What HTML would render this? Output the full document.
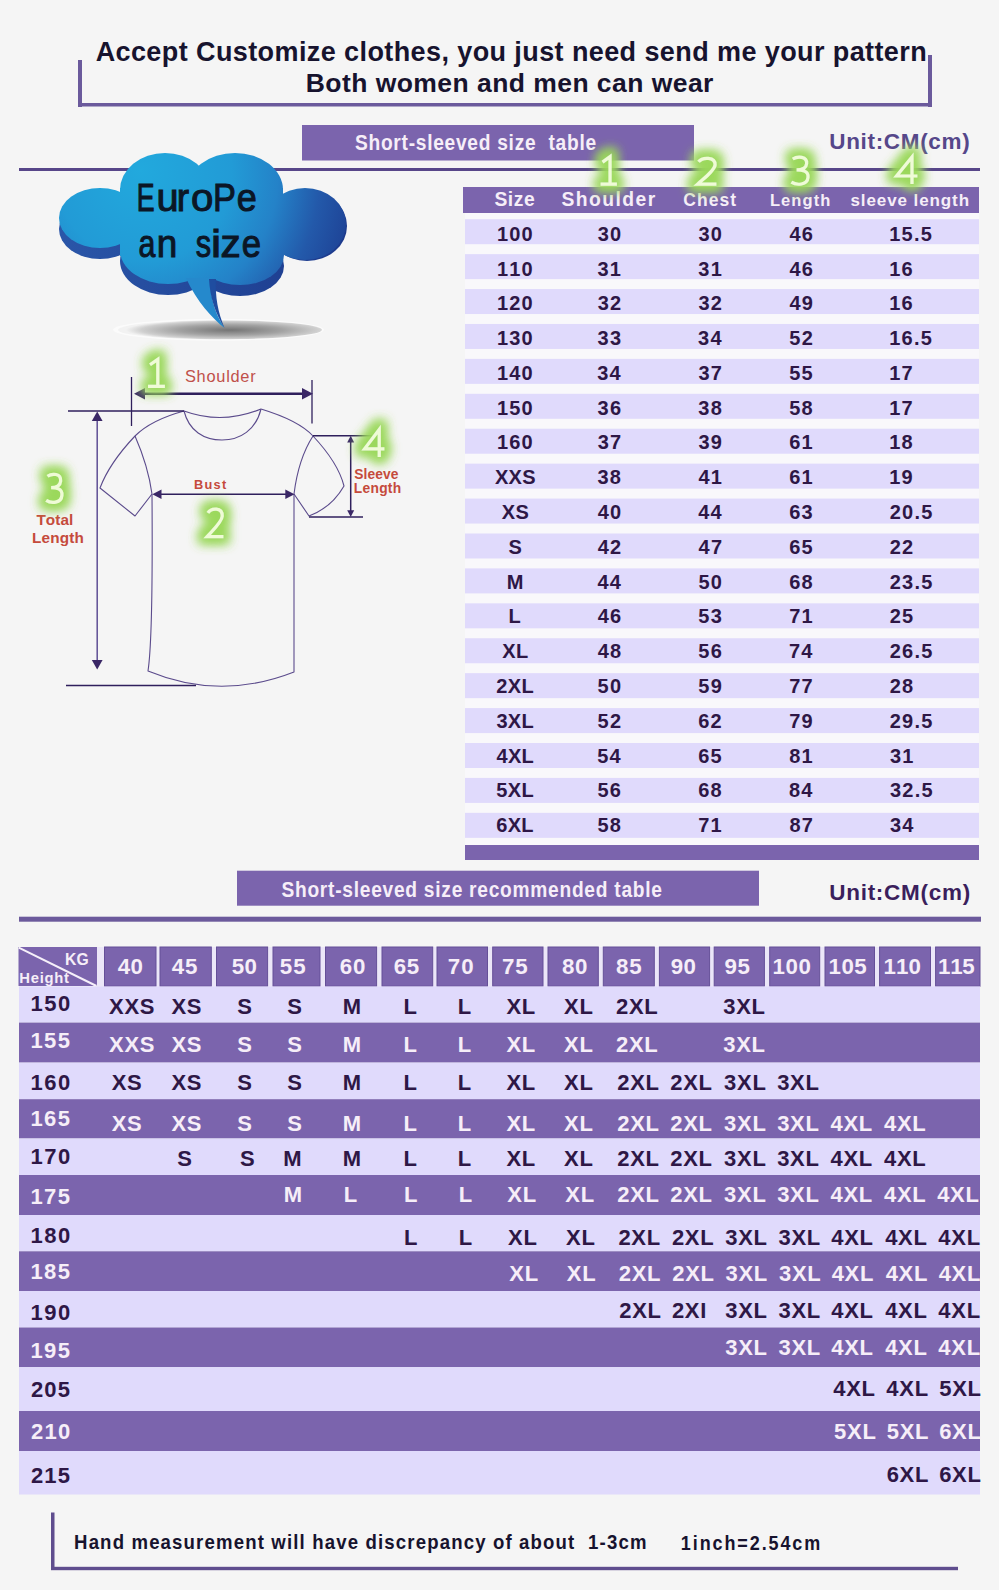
<!DOCTYPE html>
<html><head><meta charset="utf-8"><style>
html,body{margin:0;padding:0;background:#f5f5f5;overflow:hidden;width:999px;height:1590px;}
svg{display:block;}
text{font-family:"Liberation Sans", sans-serif;font-kerning:none;white-space:pre;}
</style></head><body>
<svg width="999" height="1590" viewBox="0 0 999 1590">
<rect width="999" height="1590" fill="#f5f5f5"/>
<rect x="78" y="60" width="4" height="47" fill="#6b5a9c" />
<rect x="78" y="103" width="854" height="3.5" fill="#6b5a9c" />
<rect x="928" y="55" width="4" height="52" fill="#6b5a9c" />
<text x="95.63" y="60.80" font-size="27" font-weight="700" fill="#17132e" letter-spacing="0.405" >Accept Customize clothes, you just need send me your pattern</text>
<text x="305.73" y="91.70" font-size="26.5" font-weight="700" fill="#17132e" letter-spacing="0.445" >Both women and men can wear</text>
<rect x="302" y="125" width="392" height="35.5" fill="#7b64ad" />
<text transform="translate(354.95 149.80) scale(0.9000 1)" font-size="21.3" font-weight="700" fill="#f6eef8" letter-spacing="0.814" >Short-sleeved size  table</text>
<text x="829.25" y="149.00" font-size="22.5" font-weight="700" fill="#56478a" letter-spacing="0.675" >Unit:CM(cm)</text>
<rect x="19" y="168" width="961" height="3" fill="#574689" />
<rect x="463" y="187" width="516" height="26" fill="#7b64ad" />
<text x="494.44" y="206.00" font-size="19.3" font-weight="700" fill="#f6eef8" letter-spacing="0.532" >Size</text>
<text x="561.44" y="206.30" font-size="19.3" font-weight="700" fill="#f6eef8" letter-spacing="1.459" >Shoulder</text>
<text x="683.28" y="206.30" font-size="17.5" font-weight="700" fill="#f6eef8" letter-spacing="1.078" >Chest</text>
<text x="769.90" y="205.70" font-size="16.5" font-weight="700" fill="#f6eef8" letter-spacing="1.108" >Length</text>
<text x="850.40" y="206.00" font-size="17" font-weight="700" fill="#f6eef8" letter-spacing="0.912" >sleeve length</text>
<rect x="465" y="213" width="514" height="632" fill="#f9f8fb" />
<rect x="465" y="219.2" width="514" height="25" fill="#e0dafc" />
<rect x="465" y="254.12" width="514" height="25" fill="#e0dafc" />
<rect x="465" y="289.04" width="514" height="25" fill="#e0dafc" />
<rect x="465" y="323.96" width="514" height="25" fill="#e0dafc" />
<rect x="465" y="358.88" width="514" height="25" fill="#e0dafc" />
<rect x="465" y="393.8" width="514" height="25" fill="#e0dafc" />
<rect x="465" y="428.72" width="514" height="25" fill="#e0dafc" />
<rect x="465" y="463.64" width="514" height="25" fill="#e0dafc" />
<rect x="465" y="498.56" width="514" height="25" fill="#e0dafc" />
<rect x="465" y="533.48" width="514" height="25" fill="#e0dafc" />
<rect x="465" y="568.4" width="514" height="25" fill="#e0dafc" />
<rect x="465" y="603.32" width="514" height="25" fill="#e0dafc" />
<rect x="465" y="638.24" width="514" height="25" fill="#e0dafc" />
<rect x="465" y="673.16" width="514" height="25" fill="#e0dafc" />
<rect x="465" y="708.08" width="514" height="25" fill="#e0dafc" />
<rect x="465" y="743.0" width="514" height="25" fill="#e0dafc" />
<rect x="465" y="777.92" width="514" height="25" fill="#e0dafc" />
<rect x="465" y="812.84" width="514" height="25" fill="#e0dafc" />
<text x="496.90" y="240.80" font-size="20" font-weight="700" fill="#2e1746" letter-spacing="1.200">100</text>
<text x="597.66" y="240.80" font-size="20" font-weight="700" fill="#2e1746" letter-spacing="1.200">30</text>
<text x="698.46" y="240.80" font-size="20" font-weight="700" fill="#2e1746" letter-spacing="1.200">30</text>
<text x="789.49" y="240.80" font-size="20" font-weight="700" fill="#2e1746" letter-spacing="1.200">46</text>
<text x="889.24" y="240.80" font-size="20" font-weight="700" fill="#2e1746" letter-spacing="1.200">15.5</text>
<text x="496.90" y="275.58" font-size="20" font-weight="700" fill="#2e1746" letter-spacing="1.200">110</text>
<text x="597.53" y="275.58" font-size="20" font-weight="700" fill="#2e1746" letter-spacing="1.200">31</text>
<text x="698.33" y="275.58" font-size="20" font-weight="700" fill="#2e1746" letter-spacing="1.200">31</text>
<text x="789.49" y="275.58" font-size="20" font-weight="700" fill="#2e1746" letter-spacing="1.200">46</text>
<text x="889.24" y="275.58" font-size="20" font-weight="700" fill="#2e1746" letter-spacing="1.200">16</text>
<text x="496.90" y="310.36" font-size="20" font-weight="700" fill="#2e1746" letter-spacing="1.200">120</text>
<text x="597.65" y="310.36" font-size="20" font-weight="700" fill="#2e1746" letter-spacing="1.200">32</text>
<text x="698.45" y="310.36" font-size="20" font-weight="700" fill="#2e1746" letter-spacing="1.200">32</text>
<text x="789.50" y="310.36" font-size="20" font-weight="700" fill="#2e1746" letter-spacing="1.200">49</text>
<text x="889.24" y="310.36" font-size="20" font-weight="700" fill="#2e1746" letter-spacing="1.200">16</text>
<text x="496.90" y="345.14" font-size="20" font-weight="700" fill="#2e1746" letter-spacing="1.200">130</text>
<text x="597.61" y="345.14" font-size="20" font-weight="700" fill="#2e1746" letter-spacing="1.200">33</text>
<text x="698.10" y="345.14" font-size="20" font-weight="700" fill="#2e1746" letter-spacing="1.200">34</text>
<text x="789.37" y="345.14" font-size="20" font-weight="700" fill="#2e1746" letter-spacing="1.200">52</text>
<text x="889.24" y="345.14" font-size="20" font-weight="700" fill="#2e1746" letter-spacing="1.200">16.5</text>
<text x="496.90" y="379.92" font-size="20" font-weight="700" fill="#2e1746" letter-spacing="1.200">140</text>
<text x="597.30" y="379.92" font-size="20" font-weight="700" fill="#2e1746" letter-spacing="1.200">34</text>
<text x="698.49" y="379.92" font-size="20" font-weight="700" fill="#2e1746" letter-spacing="1.200">37</text>
<text x="789.25" y="379.92" font-size="20" font-weight="700" fill="#2e1746" letter-spacing="1.200">55</text>
<text x="889.24" y="379.92" font-size="20" font-weight="700" fill="#2e1746" letter-spacing="1.200">17</text>
<text x="496.90" y="414.70" font-size="20" font-weight="700" fill="#2e1746" letter-spacing="1.200">150</text>
<text x="597.61" y="414.70" font-size="20" font-weight="700" fill="#2e1746" letter-spacing="1.200">36</text>
<text x="698.36" y="414.70" font-size="20" font-weight="700" fill="#2e1746" letter-spacing="1.200">38</text>
<text x="789.28" y="414.70" font-size="20" font-weight="700" fill="#2e1746" letter-spacing="1.200">58</text>
<text x="889.24" y="414.70" font-size="20" font-weight="700" fill="#2e1746" letter-spacing="1.200">17</text>
<text x="496.90" y="449.48" font-size="20" font-weight="700" fill="#2e1746" letter-spacing="1.200">160</text>
<text x="597.69" y="449.48" font-size="20" font-weight="700" fill="#2e1746" letter-spacing="1.200">37</text>
<text x="698.42" y="449.48" font-size="20" font-weight="700" fill="#2e1746" letter-spacing="1.200">39</text>
<text x="789.19" y="449.48" font-size="20" font-weight="700" fill="#2e1746" letter-spacing="1.200">61</text>
<text x="889.24" y="449.48" font-size="20" font-weight="700" fill="#2e1746" letter-spacing="1.200">18</text>
<text x="494.99" y="484.26" font-size="20" font-weight="700" fill="#2e1746" letter-spacing="0.300">XXS</text>
<text x="597.56" y="484.26" font-size="20" font-weight="700" fill="#2e1746" letter-spacing="1.200">38</text>
<text x="698.40" y="484.26" font-size="20" font-weight="700" fill="#2e1746" letter-spacing="1.200">41</text>
<text x="789.19" y="484.26" font-size="20" font-weight="700" fill="#2e1746" letter-spacing="1.200">61</text>
<text x="889.24" y="484.26" font-size="20" font-weight="700" fill="#2e1746" letter-spacing="1.200">19</text>
<text x="501.81" y="519.04" font-size="20" font-weight="700" fill="#2e1746" letter-spacing="0.300">XS</text>
<text x="597.74" y="519.04" font-size="20" font-weight="700" fill="#2e1746" letter-spacing="1.200">40</text>
<text x="698.18" y="519.04" font-size="20" font-weight="700" fill="#2e1746" letter-spacing="1.200">44</text>
<text x="789.27" y="519.04" font-size="20" font-weight="700" fill="#2e1746" letter-spacing="1.200">63</text>
<text x="889.81" y="519.04" font-size="20" font-weight="700" fill="#2e1746" letter-spacing="1.200">20.5</text>
<text x="508.43" y="553.82" font-size="20" font-weight="700" fill="#2e1746" letter-spacing="0.300">S</text>
<text x="597.73" y="553.82" font-size="20" font-weight="700" fill="#2e1746" letter-spacing="1.200">42</text>
<text x="698.57" y="553.82" font-size="20" font-weight="700" fill="#2e1746" letter-spacing="1.200">47</text>
<text x="789.19" y="553.82" font-size="20" font-weight="700" fill="#2e1746" letter-spacing="1.200">65</text>
<text x="889.81" y="553.82" font-size="20" font-weight="700" fill="#2e1746" letter-spacing="1.200">22</text>
<text x="506.67" y="588.60" font-size="20" font-weight="700" fill="#2e1746" letter-spacing="0.300">M</text>
<text x="597.38" y="588.60" font-size="20" font-weight="700" fill="#2e1746" letter-spacing="1.200">44</text>
<text x="698.38" y="588.60" font-size="20" font-weight="700" fill="#2e1746" letter-spacing="1.200">50</text>
<text x="789.22" y="588.60" font-size="20" font-weight="700" fill="#2e1746" letter-spacing="1.200">68</text>
<text x="889.81" y="588.60" font-size="20" font-weight="700" fill="#2e1746" letter-spacing="1.200">23.5</text>
<text x="508.53" y="623.38" font-size="20" font-weight="700" fill="#2e1746" letter-spacing="0.300">L</text>
<text x="597.69" y="623.38" font-size="20" font-weight="700" fill="#2e1746" letter-spacing="1.200">46</text>
<text x="698.33" y="623.38" font-size="20" font-weight="700" fill="#2e1746" letter-spacing="1.200">53</text>
<text x="789.13" y="623.38" font-size="20" font-weight="700" fill="#2e1746" letter-spacing="1.200">71</text>
<text x="889.81" y="623.38" font-size="20" font-weight="700" fill="#2e1746" letter-spacing="1.200">25</text>
<text x="502.29" y="658.16" font-size="20" font-weight="700" fill="#2e1746" letter-spacing="0.300">XL</text>
<text x="597.63" y="658.16" font-size="20" font-weight="700" fill="#2e1746" letter-spacing="1.200">48</text>
<text x="698.33" y="658.16" font-size="20" font-weight="700" fill="#2e1746" letter-spacing="1.200">56</text>
<text x="788.90" y="658.16" font-size="20" font-weight="700" fill="#2e1746" letter-spacing="1.200">74</text>
<text x="889.81" y="658.16" font-size="20" font-weight="700" fill="#2e1746" letter-spacing="1.200">26.5</text>
<text x="496.32" y="692.94" font-size="20" font-weight="700" fill="#2e1746" letter-spacing="0.300">2XL</text>
<text x="597.58" y="692.94" font-size="20" font-weight="700" fill="#2e1746" letter-spacing="1.200">50</text>
<text x="698.34" y="692.94" font-size="20" font-weight="700" fill="#2e1746" letter-spacing="1.200">59</text>
<text x="789.29" y="692.94" font-size="20" font-weight="700" fill="#2e1746" letter-spacing="1.200">77</text>
<text x="889.81" y="692.94" font-size="20" font-weight="700" fill="#2e1746" letter-spacing="1.200">28</text>
<text x="496.44" y="727.72" font-size="20" font-weight="700" fill="#2e1746" letter-spacing="0.300">3XL</text>
<text x="597.57" y="727.72" font-size="20" font-weight="700" fill="#2e1746" letter-spacing="1.200">52</text>
<text x="698.31" y="727.72" font-size="20" font-weight="700" fill="#2e1746" letter-spacing="1.200">62</text>
<text x="789.22" y="727.72" font-size="20" font-weight="700" fill="#2e1746" letter-spacing="1.200">79</text>
<text x="889.81" y="727.72" font-size="20" font-weight="700" fill="#2e1746" letter-spacing="1.200">29.5</text>
<text x="496.52" y="762.50" font-size="20" font-weight="700" fill="#2e1746" letter-spacing="0.300">4XL</text>
<text x="597.22" y="762.50" font-size="20" font-weight="700" fill="#2e1746" letter-spacing="1.200">54</text>
<text x="698.19" y="762.50" font-size="20" font-weight="700" fill="#2e1746" letter-spacing="1.200">65</text>
<text x="789.24" y="762.50" font-size="20" font-weight="700" fill="#2e1746" letter-spacing="1.200">81</text>
<text x="890.04" y="762.50" font-size="20" font-weight="700" fill="#2e1746" letter-spacing="1.200">31</text>
<text x="496.36" y="797.28" font-size="20" font-weight="700" fill="#2e1746" letter-spacing="0.300">5XL</text>
<text x="597.53" y="797.28" font-size="20" font-weight="700" fill="#2e1746" letter-spacing="1.200">56</text>
<text x="698.22" y="797.28" font-size="20" font-weight="700" fill="#2e1746" letter-spacing="1.200">68</text>
<text x="789.01" y="797.28" font-size="20" font-weight="700" fill="#2e1746" letter-spacing="1.200">84</text>
<text x="890.04" y="797.28" font-size="20" font-weight="700" fill="#2e1746" letter-spacing="1.200">32.5</text>
<text x="496.30" y="832.06" font-size="20" font-weight="700" fill="#2e1746" letter-spacing="0.300">6XL</text>
<text x="597.48" y="832.06" font-size="20" font-weight="700" fill="#2e1746" letter-spacing="1.200">58</text>
<text x="698.13" y="832.06" font-size="20" font-weight="700" fill="#2e1746" letter-spacing="1.200">71</text>
<text x="789.40" y="832.06" font-size="20" font-weight="700" fill="#2e1746" letter-spacing="1.200">87</text>
<text x="890.04" y="832.06" font-size="20" font-weight="700" fill="#2e1746" letter-spacing="1.200">34</text>
<rect x="465" y="845" width="514" height="15" fill="#7b64ad" />
<rect x="237" y="870.7" width="522" height="35" fill="#7b64ad" />
<text transform="translate(281.45 896.80) scale(0.9000 1)" font-size="21.3" font-weight="700" fill="#f6eef8" letter-spacing="0.824" >Short-sleeved size recommended table</text>
<text x="829.25" y="899.60" font-size="22.5" font-weight="700" fill="#3b1f5c" letter-spacing="0.715" >Unit:CM(cm)</text>
<rect x="19" y="916.7" width="962" height="5" fill="#6c5a9c" />
<rect x="97" y="947" width="883" height="39.5" fill="#ebe6f8" />
<rect x="18.5" y="947" width="78.5" height="39" fill="#7b64ad" />
<line x1="18.8" y1="947.6" x2="96.5" y2="986" stroke="#f6f0fa" stroke-width="2"/>
<text x="64.95" y="964.80" font-size="15.7" font-weight="700" fill="#f6eef8" letter-spacing="0.274" >KG</text>
<text x="19.31" y="982.50" font-size="14.8" font-weight="700" fill="#f6eef8" letter-spacing="0.726" >Height</text>
<rect x="104.5" y="947" width="51.5" height="39.2" fill="#7b64ad" stroke="#654f98" stroke-width="1"/>
<text x="117.66" y="974.00" font-size="22.3" font-weight="700" fill="#f6eef8" letter-spacing="0.548" >40</text>
<rect x="160" y="947" width="51.3" height="39.2" fill="#7b64ad" stroke="#654f98" stroke-width="1"/>
<text x="171.66" y="974.00" font-size="22.3" font-weight="700" fill="#f6eef8" letter-spacing="0.954" >45</text>
<rect x="216.5" y="947" width="51.1" height="39.2" fill="#7b64ad" stroke="#654f98" stroke-width="1"/>
<text x="231.71" y="974.00" font-size="22.3" font-weight="700" fill="#f6eef8" letter-spacing="0.396" >50</text>
<rect x="273" y="947" width="47" height="39.2" fill="#7b64ad" stroke="#654f98" stroke-width="1"/>
<text x="279.81" y="974.00" font-size="22.3" font-weight="700" fill="#f6eef8" letter-spacing="1.002" >55</text>
<rect x="325.5" y="947" width="51.1" height="39.2" fill="#7b64ad" stroke="#654f98" stroke-width="1"/>
<text x="339.68" y="974.00" font-size="22.3" font-weight="700" fill="#f6eef8" letter-spacing="1.027" >60</text>
<rect x="382" y="947" width="50.7" height="39.2" fill="#7b64ad" stroke="#654f98" stroke-width="1"/>
<text x="393.78" y="974.00" font-size="22.3" font-weight="700" fill="#f6eef8" letter-spacing="0.633" >65</text>
<rect x="437" y="947" width="50.5" height="39.2" fill="#7b64ad" stroke="#654f98" stroke-width="1"/>
<text x="447.64" y="974.00" font-size="22.3" font-weight="700" fill="#f6eef8" letter-spacing="1.168" >70</text>
<rect x="492.7" y="947" width="50.3" height="39.2" fill="#7b64ad" stroke="#654f98" stroke-width="1"/>
<text x="502.04" y="974.00" font-size="22.3" font-weight="700" fill="#f6eef8" letter-spacing="0.774" >75</text>
<rect x="548" y="947" width="50.3" height="39.2" fill="#7b64ad" stroke="#654f98" stroke-width="1"/>
<text x="561.99" y="974.00" font-size="22.3" font-weight="700" fill="#f6eef8" letter-spacing="0.618" >80</text>
<rect x="603.3" y="947" width="51.0" height="39.2" fill="#7b64ad" stroke="#654f98" stroke-width="1"/>
<text x="616.09" y="974.00" font-size="22.3" font-weight="700" fill="#f6eef8" letter-spacing="0.724" >85</text>
<rect x="659.4" y="947" width="50.2" height="39.2" fill="#7b64ad" stroke="#654f98" stroke-width="1"/>
<text x="670.63" y="974.00" font-size="22.3" font-weight="700" fill="#f6eef8" letter-spacing="0.483" >90</text>
<rect x="714.2" y="947" width="50.2" height="39.2" fill="#7b64ad" stroke="#654f98" stroke-width="1"/>
<text x="724.43" y="974.00" font-size="22.3" font-weight="700" fill="#f6eef8" letter-spacing="0.789" >95</text>
<rect x="769.7" y="947" width="50.0" height="39.2" fill="#7b64ad" stroke="#654f98" stroke-width="1"/>
<text x="772.60" y="974.00" font-size="22.3" font-weight="700" fill="#f6eef8" letter-spacing="0.556" >100</text>
<rect x="825" y="947" width="49.5" height="39.2" fill="#7b64ad" stroke="#654f98" stroke-width="1"/>
<text x="828.60" y="974.00" font-size="22.3" font-weight="700" fill="#f6eef8" letter-spacing="0.409" >105</text>
<rect x="879.6" y="947" width="50.9" height="39.2" fill="#7b64ad" stroke="#654f98" stroke-width="1"/>
<text x="883.60" y="974.00" font-size="22.3" font-weight="700" fill="#f6eef8" letter-spacing="0.056" >110</text>
<rect x="935.6" y="947" width="44.4" height="39.2" fill="#7b64ad" stroke="#654f98" stroke-width="1"/>
<text x="938.10" y="974.00" font-size="22.3" font-weight="700" fill="#f6eef8" letter-spacing="-0.341" >115</text>
<rect x="19" y="986.4" width="961" height="36.2" fill="#e0dafc" />
<rect x="19" y="1022.6" width="961" height="40.0" fill="#7b64ad" />
<rect x="19" y="1062.6" width="961" height="36.6" fill="#e0dafc" />
<rect x="19" y="1099.2" width="961" height="39.3" fill="#7b64ad" />
<rect x="19" y="1138.5" width="961" height="36.5" fill="#e0dafc" />
<rect x="19" y="1175" width="961" height="40" fill="#7b64ad" />
<rect x="19" y="1215" width="961" height="36.3" fill="#e0dafc" />
<rect x="19" y="1251.3" width="961" height="39.7" fill="#7b64ad" />
<rect x="19" y="1291" width="961" height="36.5" fill="#e0dafc" />
<rect x="19" y="1327.5" width="961" height="39.7" fill="#7b64ad" />
<rect x="19" y="1367.2" width="961" height="43.8" fill="#e0dafc" />
<rect x="19" y="1411" width="961" height="40" fill="#7b64ad" />
<rect x="19" y="1451" width="961" height="43.5" fill="#e0dafc" />
<text x="30.41" y="1011.40" font-size="22" font-weight="700" fill="#2e1746" letter-spacing="1.541" >150</text>
<text x="30.41" y="1048.20" font-size="22" font-weight="700" fill="#f6eef8" letter-spacing="1.396" >155</text>
<text x="30.41" y="1089.90" font-size="22" font-weight="700" fill="#2e1746" letter-spacing="1.541" >160</text>
<text x="30.41" y="1126.40" font-size="22" font-weight="700" fill="#f6eef8" letter-spacing="1.396" >165</text>
<text x="30.41" y="1163.50" font-size="22" font-weight="700" fill="#2e1746" letter-spacing="1.541" >170</text>
<text x="30.41" y="1203.50" font-size="22" font-weight="700" fill="#f6eef8" letter-spacing="1.396" >175</text>
<text x="30.41" y="1242.50" font-size="22" font-weight="700" fill="#2e1746" letter-spacing="1.541" >180</text>
<text x="30.41" y="1278.50" font-size="22" font-weight="700" fill="#f6eef8" letter-spacing="1.396" >185</text>
<text x="30.41" y="1320.00" font-size="22" font-weight="700" fill="#2e1746" letter-spacing="1.541" >190</text>
<text x="30.41" y="1357.50" font-size="22" font-weight="700" fill="#f6eef8" letter-spacing="1.396" >195</text>
<text x="31.04" y="1396.50" font-size="22" font-weight="700" fill="#2e1746" letter-spacing="1.084" >205</text>
<text x="31.04" y="1439.00" font-size="22" font-weight="700" fill="#f6eef8" letter-spacing="1.229" >210</text>
<text x="31.04" y="1482.50" font-size="22" font-weight="700" fill="#2e1746" letter-spacing="1.084" >215</text>
<text x="109.11" y="1014.30" font-size="22" font-weight="700" fill="#2e1746" letter-spacing="0.700">XXS</text>
<text x="171.51" y="1014.30" font-size="22" font-weight="700" fill="#2e1746" letter-spacing="0.700">XS</text>
<text x="237.37" y="1014.30" font-size="22" font-weight="700" fill="#2e1746" letter-spacing="0.700">S</text>
<text x="287.37" y="1014.30" font-size="22" font-weight="700" fill="#2e1746" letter-spacing="0.700">S</text>
<text x="342.73" y="1014.30" font-size="22" font-weight="700" fill="#2e1746" letter-spacing="0.700">M</text>
<text x="403.53" y="1014.30" font-size="22" font-weight="700" fill="#2e1746" letter-spacing="0.700">L</text>
<text x="457.73" y="1014.30" font-size="22" font-weight="700" fill="#2e1746" letter-spacing="0.700">L</text>
<text x="506.41" y="1014.30" font-size="22" font-weight="700" fill="#2e1746" letter-spacing="0.700">XL</text>
<text x="564.11" y="1014.30" font-size="22" font-weight="700" fill="#2e1746" letter-spacing="0.700">XL</text>
<text x="616.04" y="1014.30" font-size="22" font-weight="700" fill="#2e1746" letter-spacing="0.700">2XL</text>
<text x="723.30" y="1014.30" font-size="22" font-weight="700" fill="#2e1746" letter-spacing="0.700">3XL</text>
<text x="109.11" y="1051.50" font-size="22" font-weight="700" fill="#f6eef8" letter-spacing="0.700">XXS</text>
<text x="171.51" y="1051.50" font-size="22" font-weight="700" fill="#f6eef8" letter-spacing="0.700">XS</text>
<text x="237.37" y="1051.50" font-size="22" font-weight="700" fill="#f6eef8" letter-spacing="0.700">S</text>
<text x="287.37" y="1051.50" font-size="22" font-weight="700" fill="#f6eef8" letter-spacing="0.700">S</text>
<text x="342.73" y="1051.50" font-size="22" font-weight="700" fill="#f6eef8" letter-spacing="0.700">M</text>
<text x="403.53" y="1051.50" font-size="22" font-weight="700" fill="#f6eef8" letter-spacing="0.700">L</text>
<text x="457.73" y="1051.50" font-size="22" font-weight="700" fill="#f6eef8" letter-spacing="0.700">L</text>
<text x="506.41" y="1051.50" font-size="22" font-weight="700" fill="#f6eef8" letter-spacing="0.700">XL</text>
<text x="564.11" y="1051.50" font-size="22" font-weight="700" fill="#f6eef8" letter-spacing="0.700">XL</text>
<text x="616.04" y="1051.50" font-size="22" font-weight="700" fill="#f6eef8" letter-spacing="0.700">2XL</text>
<text x="723.30" y="1051.50" font-size="22" font-weight="700" fill="#f6eef8" letter-spacing="0.700">3XL</text>
<text x="111.71" y="1089.90" font-size="22" font-weight="700" fill="#2e1746" letter-spacing="0.700">XS</text>
<text x="171.51" y="1089.90" font-size="22" font-weight="700" fill="#2e1746" letter-spacing="0.700">XS</text>
<text x="237.37" y="1089.90" font-size="22" font-weight="700" fill="#2e1746" letter-spacing="0.700">S</text>
<text x="287.37" y="1089.90" font-size="22" font-weight="700" fill="#2e1746" letter-spacing="0.700">S</text>
<text x="342.73" y="1089.90" font-size="22" font-weight="700" fill="#2e1746" letter-spacing="0.700">M</text>
<text x="403.53" y="1089.90" font-size="22" font-weight="700" fill="#2e1746" letter-spacing="0.700">L</text>
<text x="457.73" y="1089.90" font-size="22" font-weight="700" fill="#2e1746" letter-spacing="0.700">L</text>
<text x="506.41" y="1089.90" font-size="22" font-weight="700" fill="#2e1746" letter-spacing="0.700">XL</text>
<text x="564.11" y="1089.90" font-size="22" font-weight="700" fill="#2e1746" letter-spacing="0.700">XL</text>
<text x="617.24" y="1089.90" font-size="22" font-weight="700" fill="#2e1746" letter-spacing="0.700">2XL</text>
<text x="670.24" y="1089.90" font-size="22" font-weight="700" fill="#2e1746" letter-spacing="0.700">2XL</text>
<text x="724.10" y="1089.90" font-size="22" font-weight="700" fill="#2e1746" letter-spacing="0.700">3XL</text>
<text x="777.20" y="1089.90" font-size="22" font-weight="700" fill="#2e1746" letter-spacing="0.700">3XL</text>
<text x="111.71" y="1130.80" font-size="22" font-weight="700" fill="#f6eef8" letter-spacing="0.700">XS</text>
<text x="171.51" y="1130.80" font-size="22" font-weight="700" fill="#f6eef8" letter-spacing="0.700">XS</text>
<text x="237.37" y="1130.80" font-size="22" font-weight="700" fill="#f6eef8" letter-spacing="0.700">S</text>
<text x="287.37" y="1130.80" font-size="22" font-weight="700" fill="#f6eef8" letter-spacing="0.700">S</text>
<text x="342.73" y="1130.80" font-size="22" font-weight="700" fill="#f6eef8" letter-spacing="0.700">M</text>
<text x="403.53" y="1130.80" font-size="22" font-weight="700" fill="#f6eef8" letter-spacing="0.700">L</text>
<text x="457.73" y="1130.80" font-size="22" font-weight="700" fill="#f6eef8" letter-spacing="0.700">L</text>
<text x="506.41" y="1130.80" font-size="22" font-weight="700" fill="#f6eef8" letter-spacing="0.700">XL</text>
<text x="564.11" y="1130.80" font-size="22" font-weight="700" fill="#f6eef8" letter-spacing="0.700">XL</text>
<text x="617.24" y="1130.80" font-size="22" font-weight="700" fill="#f6eef8" letter-spacing="0.700">2XL</text>
<text x="670.24" y="1130.80" font-size="22" font-weight="700" fill="#f6eef8" letter-spacing="0.700">2XL</text>
<text x="724.10" y="1130.80" font-size="22" font-weight="700" fill="#f6eef8" letter-spacing="0.700">3XL</text>
<text x="777.20" y="1130.80" font-size="22" font-weight="700" fill="#f6eef8" letter-spacing="0.700">3XL</text>
<text x="830.47" y="1130.80" font-size="22" font-weight="700" fill="#f6eef8" letter-spacing="0.700">4XL</text>
<text x="883.97" y="1130.80" font-size="22" font-weight="700" fill="#f6eef8" letter-spacing="0.700">4XL</text>
<text x="177.37" y="1165.80" font-size="22" font-weight="700" fill="#2e1746" letter-spacing="0.700">S</text>
<text x="239.97" y="1165.80" font-size="22" font-weight="700" fill="#2e1746" letter-spacing="0.700">S</text>
<text x="283.33" y="1165.80" font-size="22" font-weight="700" fill="#2e1746" letter-spacing="0.700">M</text>
<text x="342.73" y="1165.80" font-size="22" font-weight="700" fill="#2e1746" letter-spacing="0.700">M</text>
<text x="403.53" y="1165.80" font-size="22" font-weight="700" fill="#2e1746" letter-spacing="0.700">L</text>
<text x="457.73" y="1165.80" font-size="22" font-weight="700" fill="#2e1746" letter-spacing="0.700">L</text>
<text x="506.41" y="1165.80" font-size="22" font-weight="700" fill="#2e1746" letter-spacing="0.700">XL</text>
<text x="564.11" y="1165.80" font-size="22" font-weight="700" fill="#2e1746" letter-spacing="0.700">XL</text>
<text x="617.24" y="1165.80" font-size="22" font-weight="700" fill="#2e1746" letter-spacing="0.700">2XL</text>
<text x="670.24" y="1165.80" font-size="22" font-weight="700" fill="#2e1746" letter-spacing="0.700">2XL</text>
<text x="724.10" y="1165.80" font-size="22" font-weight="700" fill="#2e1746" letter-spacing="0.700">3XL</text>
<text x="777.20" y="1165.80" font-size="22" font-weight="700" fill="#2e1746" letter-spacing="0.700">3XL</text>
<text x="830.47" y="1165.80" font-size="22" font-weight="700" fill="#2e1746" letter-spacing="0.700">4XL</text>
<text x="883.97" y="1165.80" font-size="22" font-weight="700" fill="#2e1746" letter-spacing="0.700">4XL</text>
<text x="283.73" y="1201.80" font-size="22" font-weight="700" fill="#f6eef8" letter-spacing="0.700">M</text>
<text x="343.83" y="1201.80" font-size="22" font-weight="700" fill="#f6eef8" letter-spacing="0.700">L</text>
<text x="403.93" y="1201.80" font-size="22" font-weight="700" fill="#f6eef8" letter-spacing="0.700">L</text>
<text x="458.73" y="1201.80" font-size="22" font-weight="700" fill="#f6eef8" letter-spacing="0.700">L</text>
<text x="507.31" y="1201.80" font-size="22" font-weight="700" fill="#f6eef8" letter-spacing="0.700">XL</text>
<text x="565.31" y="1201.80" font-size="22" font-weight="700" fill="#f6eef8" letter-spacing="0.700">XL</text>
<text x="617.24" y="1201.80" font-size="22" font-weight="700" fill="#f6eef8" letter-spacing="0.700">2XL</text>
<text x="670.24" y="1201.80" font-size="22" font-weight="700" fill="#f6eef8" letter-spacing="0.700">2XL</text>
<text x="724.10" y="1201.80" font-size="22" font-weight="700" fill="#f6eef8" letter-spacing="0.700">3XL</text>
<text x="777.20" y="1201.80" font-size="22" font-weight="700" fill="#f6eef8" letter-spacing="0.700">3XL</text>
<text x="830.47" y="1201.80" font-size="22" font-weight="700" fill="#f6eef8" letter-spacing="0.700">4XL</text>
<text x="883.97" y="1201.80" font-size="22" font-weight="700" fill="#f6eef8" letter-spacing="0.700">4XL</text>
<text x="937.17" y="1201.80" font-size="22" font-weight="700" fill="#f6eef8" letter-spacing="0.700">4XL</text>
<text x="404.03" y="1245.00" font-size="22" font-weight="700" fill="#2e1746" letter-spacing="0.700">L</text>
<text x="458.73" y="1245.00" font-size="22" font-weight="700" fill="#2e1746" letter-spacing="0.700">L</text>
<text x="508.11" y="1245.00" font-size="22" font-weight="700" fill="#2e1746" letter-spacing="0.700">XL</text>
<text x="566.11" y="1245.00" font-size="22" font-weight="700" fill="#2e1746" letter-spacing="0.700">XL</text>
<text x="618.44" y="1245.00" font-size="22" font-weight="700" fill="#2e1746" letter-spacing="0.700">2XL</text>
<text x="671.94" y="1245.00" font-size="22" font-weight="700" fill="#2e1746" letter-spacing="0.700">2XL</text>
<text x="725.30" y="1245.00" font-size="22" font-weight="700" fill="#2e1746" letter-spacing="0.700">3XL</text>
<text x="778.50" y="1245.00" font-size="22" font-weight="700" fill="#2e1746" letter-spacing="0.700">3XL</text>
<text x="831.27" y="1245.00" font-size="22" font-weight="700" fill="#2e1746" letter-spacing="0.700">4XL</text>
<text x="885.17" y="1245.00" font-size="22" font-weight="700" fill="#2e1746" letter-spacing="0.700">4XL</text>
<text x="938.37" y="1245.00" font-size="22" font-weight="700" fill="#2e1746" letter-spacing="0.700">4XL</text>
<text x="509.31" y="1280.50" font-size="22" font-weight="700" fill="#f6eef8" letter-spacing="0.700">XL</text>
<text x="566.81" y="1280.50" font-size="22" font-weight="700" fill="#f6eef8" letter-spacing="0.700">XL</text>
<text x="618.74" y="1280.50" font-size="22" font-weight="700" fill="#f6eef8" letter-spacing="0.700">2XL</text>
<text x="672.24" y="1280.50" font-size="22" font-weight="700" fill="#f6eef8" letter-spacing="0.700">2XL</text>
<text x="725.50" y="1280.50" font-size="22" font-weight="700" fill="#f6eef8" letter-spacing="0.700">3XL</text>
<text x="779.00" y="1280.50" font-size="22" font-weight="700" fill="#f6eef8" letter-spacing="0.700">3XL</text>
<text x="831.67" y="1280.50" font-size="22" font-weight="700" fill="#f6eef8" letter-spacing="0.700">4XL</text>
<text x="885.67" y="1280.50" font-size="22" font-weight="700" fill="#f6eef8" letter-spacing="0.700">4XL</text>
<text x="938.67" y="1280.50" font-size="22" font-weight="700" fill="#f6eef8" letter-spacing="0.700">4XL</text>
<text x="619.24" y="1318.20" font-size="22" font-weight="700" fill="#2e1746" letter-spacing="0.700">2XL</text>
<text x="671.94" y="1318.20" font-size="22" font-weight="700" fill="#2e1746" letter-spacing="0.700">2XI</text>
<text x="725.30" y="1318.20" font-size="22" font-weight="700" fill="#2e1746" letter-spacing="0.700">3XL</text>
<text x="778.50" y="1318.20" font-size="22" font-weight="700" fill="#2e1746" letter-spacing="0.700">3XL</text>
<text x="831.27" y="1318.20" font-size="22" font-weight="700" fill="#2e1746" letter-spacing="0.700">4XL</text>
<text x="885.17" y="1318.20" font-size="22" font-weight="700" fill="#2e1746" letter-spacing="0.700">4XL</text>
<text x="938.37" y="1318.20" font-size="22" font-weight="700" fill="#2e1746" letter-spacing="0.700">4XL</text>
<text x="725.30" y="1355.10" font-size="22" font-weight="700" fill="#f6eef8" letter-spacing="0.700">3XL</text>
<text x="778.50" y="1355.10" font-size="22" font-weight="700" fill="#f6eef8" letter-spacing="0.700">3XL</text>
<text x="831.27" y="1355.10" font-size="22" font-weight="700" fill="#f6eef8" letter-spacing="0.700">4XL</text>
<text x="885.17" y="1355.10" font-size="22" font-weight="700" fill="#f6eef8" letter-spacing="0.700">4XL</text>
<text x="938.37" y="1355.10" font-size="22" font-weight="700" fill="#f6eef8" letter-spacing="0.700">4XL</text>
<text x="833.27" y="1395.90" font-size="22" font-weight="700" fill="#2e1746" letter-spacing="0.700">4XL</text>
<text x="886.37" y="1395.90" font-size="22" font-weight="700" fill="#2e1746" letter-spacing="0.700">4XL</text>
<text x="939.32" y="1395.90" font-size="22" font-weight="700" fill="#2e1746" letter-spacing="0.700">5XL</text>
<text x="834.12" y="1439.00" font-size="22" font-weight="700" fill="#f6eef8" letter-spacing="0.700">5XL</text>
<text x="886.82" y="1439.00" font-size="22" font-weight="700" fill="#f6eef8" letter-spacing="0.700">5XL</text>
<text x="939.19" y="1439.00" font-size="22" font-weight="700" fill="#f6eef8" letter-spacing="0.700">6XL</text>
<text x="886.69" y="1481.70" font-size="22" font-weight="700" fill="#2e1746" letter-spacing="0.700">6XL</text>
<text x="939.19" y="1481.70" font-size="22" font-weight="700" fill="#2e1746" letter-spacing="0.700">6XL</text>
<rect x="51" y="1512.5" width="3.5" height="57.5" fill="#5f4d8e" />
<rect x="51" y="1566.8" width="907" height="3.4" fill="#5f4d8e" />
<text transform="translate(74.06 1548.50) scale(0.9300 1)" font-size="20" font-weight="700" fill="#17132e" letter-spacing="1.240" >Hand measurement will have discrepancy of about  1-3cm</text>
<text transform="translate(680.87 1550.00) scale(0.9000 1)" font-size="20" font-weight="700" fill="#17132e" letter-spacing="2.109" >1inch=2.54cm</text>
<defs>
  <radialGradient id="cg" gradientUnits="userSpaceOnUse" cx="150" cy="180" r="220" fx="140" fy="170">
    <stop offset="0" stop-color="#22a9dd"/>
    <stop offset="0.4" stop-color="#229bd6"/>
    <stop offset="0.6" stop-color="#2482c8"/>
    <stop offset="0.78" stop-color="#2359aa"/>
    <stop offset="1" stop-color="#1c3a8e"/>
  </radialGradient>
  <linearGradient id="ce" gradientUnits="userSpaceOnUse" x1="60" y1="0" x2="346" y2="0">
    <stop offset="0" stop-color="#2a56a8"/>
    <stop offset="1" stop-color="#1c3a8c"/>
  </linearGradient>
  <radialGradient id="sh" gradientUnits="userSpaceOnUse" cx="230" cy="330" r="104" gradientTransform="translate(230 330) scale(1 0.1) translate(-230 -330)">
    <stop offset="0" stop-color="#747474"/>
    <stop offset="0.5" stop-color="#a2a2a2"/>
    <stop offset="0.85" stop-color="#cfcfcf"/>
    <stop offset="1" stop-color="#f2f2f2"/>
  </radialGradient>
  <filter id="glow" x="-80%" y="-60%" width="260%" height="220%">
    <feMorphology in="SourceAlpha" operator="dilate" radius="4.5" result="d"/>
    <feGaussianBlur in="d" stdDeviation="5.5" result="b"/>
    <feFlood flood-color="#9ad85a" flood-opacity="0.9"/>
    <feComposite in2="b" operator="in" result="g"/>
    <feMerge><feMergeNode in="g"/><feMergeNode in="g"/><feMergeNode in="SourceGraphic"/></feMerge>
  </filter>
</defs>
<!-- shadow -->
<ellipse cx="218.5" cy="329.8" rx="105.5" ry="11" fill="#ffffff" opacity="0.6"/>
<ellipse cx="220" cy="329.8" rx="102" ry="9.5" fill="url(#sh)"/>
<!-- cloud extrusion -->
<g fill="url(#ce)">
  <ellipse cx="100" cy="229" rx="41" ry="30"/>
  <ellipse cx="168" cy="261" rx="48" ry="34"/>
  <ellipse cx="240" cy="266" rx="44" ry="30"/>
  <ellipse cx="307" cy="226" rx="40" ry="35"/>
</g>
<!-- cloud top face -->
<g fill="url(#cg)">
  <ellipse cx="100" cy="218" rx="41" ry="30"/>
  <ellipse cx="165" cy="190" rx="45" ry="37"/>
  <ellipse cx="235" cy="190" rx="48" ry="37"/>
  <ellipse cx="305" cy="224" rx="41" ry="36"/>
  <ellipse cx="168" cy="250" rx="48" ry="34"/>
  <ellipse cx="240" cy="255" rx="44" ry="30"/>
  <rect x="120" y="188" width="163" height="68"/>
  <ellipse cx="205" cy="262" rx="26" ry="20"/>
</g>
<!-- tail -->
<path d="M186,278 L211,278 C210,296 214,312 224.5,328 C212,318 197,302 186,278 Z" fill="#2589cc"/>
<path d="M209,279 L216,279 C215,297 218,312 224.5,328 C215,313 210,297 209,279 Z" fill="#1f4da0"/>

<g fill="none" stroke="#5b4b8c" stroke-width="1.1" stroke-linejoin="round">
<path d="M184,411 C189,431 204,440 222,440 C240,440 256,430 261,409"/>
<path d="M184,411 Q222,425 261,409"/>
<path d="M184,411 C162,417 146,425 135,436 C118,454 106,472 100,488 L135,516 L152,494"/>
<path d="M135,436 C142,452 149,472 152,494 C152.5,560 152,645 148,671 Q220,701 294,672 C294,610 294,550 294,494 C297,470 304,450 313,436"/>
<path d="M261,409 C284,416 302,424 313,436 C328,452 340,470 344,486 C336,500 325,510 309,516 L294,494"/>
</g>
<g stroke="#2f1f5c" fill="none">
<line x1="131.5" y1="377" x2="131.5" y2="426" stroke-width="1.3"/>
<line x1="312" y1="380" x2="312" y2="423.5" stroke-width="1.3"/>
<line x1="140" y1="393.8" x2="304" y2="393.8" stroke-width="2.6"/>
<line x1="68" y1="411" x2="184" y2="411" stroke-width="1.4"/>
<line x1="97.2" y1="418" x2="97.2" y2="662" stroke-width="1.5" stroke="#5e4e94"/>
<line x1="66" y1="685.5" x2="196" y2="685.5" stroke-width="1.5"/>
<line x1="313" y1="435.8" x2="372" y2="435.8" stroke-width="1.4"/>
<line x1="309" y1="517" x2="363" y2="517" stroke-width="1.4"/>
<line x1="350.7" y1="441" x2="350.7" y2="511" stroke-width="1.5"/>
<line x1="160" y1="494.3" x2="287" y2="494.3" stroke-width="1.6"/>
</g>
<g fill="#3a2766">
<path d="M134,393.8 L145,388 L145,399.6 Z"/>
<path d="M313,393.8 L302,388 L302,399.6 Z"/>
<path d="M97.2,411.5 L91.8,421 L102.6,421 Z"/>
<path d="M97.2,669.5 L91.8,660 L102.6,660 Z"/>
<path d="M350.7,435.8 L347.2,442.5 L354.2,442.5 Z"/>
<path d="M350.7,517 L347.2,510.3 L354.2,510.3 Z"/>
<path d="M152.3,494.3 L161.5,489.5 L161.5,499.1 Z"/>
<path d="M294.5,494.3 L285.3,489.5 L285.3,499.1 Z"/>
</g>
<text x="184.96" y="381.90" font-size="16.4" font-weight="400" fill="#c0504a" letter-spacing="0.724" >Shoulder</text>
<text x="193.94" y="488.80" font-size="12.8" font-weight="700" fill="#c54a3c" letter-spacing="1.256" >Bust</text>
<text x="354.30" y="479.20" font-size="13.8" font-weight="700" fill="#c54a3c" letter-spacing="0.066" >Sleeve</text>
<text x="353.78" y="493.20" font-size="13.8" font-weight="700" fill="#c54a3c" letter-spacing="0.278" >Length</text>
<text x="36.43" y="524.90" font-size="15.3" font-weight="700" fill="#c54a3c" letter-spacing="0.077" >Total</text>
<text x="31.98" y="542.70" font-size="15.3" font-weight="700" fill="#c54a3c" letter-spacing="0.197" >Length</text>
<g filter="url(#glow)">
<path d="M602.56,162.10 L610.05,156.60 L610.05,184.10 M600.60,184.10 L616.90,184.10" fill="none" stroke="#effbd6" stroke-width="3.2" stroke-linejoin="miter" stroke-linecap="butt"/>
<path d="M698.54,161.84 C702.30,157.07 715.46,156.28 715.08,165.02 C714.52,170.85 704.18,178.27 697.60,184.10 L716.40,184.10" fill="none" stroke="#effbd6" stroke-width="3.2" stroke-linejoin="miter" stroke-linecap="butt"/>
<path d="M792.78,159.01 C797.45,156.01 807.32,156.01 806.62,163.65 C806.11,169.11 800.91,169.93 796.59,169.93 C801.78,169.93 808.70,170.75 808.01,177.30 C807.32,185.22 796.59,185.49 791.40,182.22" fill="none" stroke="#effbd6" stroke-width="3.2" stroke-linejoin="miter" stroke-linecap="butt"/>
<path d="M911.99,184.10 L911.99,157.10 L896.60,176.00 L917.40,176.00" fill="none" stroke="#effbd6" stroke-width="3.2" stroke-linejoin="miter" stroke-linecap="butt"/>
<path d="M150.03,364.80 L157.80,359.40 L157.80,386.40 M148.00,386.40 L164.90,386.40" fill="none" stroke="#effbd6" stroke-width="3.2" stroke-linejoin="miter" stroke-linecap="butt"/>
<path d="M207.91,512.83 C211.17,507.73 222.58,506.88 222.26,516.22 C221.77,522.45 212.81,530.37 207.10,536.60 L223.40,536.60" fill="none" stroke="#effbd6" stroke-width="3.2" stroke-linejoin="miter" stroke-linecap="butt"/>
<path d="M47.51,476.28 C51.94,473.17 61.29,473.17 60.63,481.09 C60.14,486.75 55.22,487.60 51.12,487.60 C56.04,487.60 62.60,488.45 61.94,495.24 C61.29,503.45 51.12,503.73 46.20,500.34" fill="none" stroke="#effbd6" stroke-width="3.2" stroke-linejoin="miter" stroke-linecap="butt"/>
<path d="M379.25,457.00 L379.25,429.60 L364.60,448.78 L384.40,448.78" fill="none" stroke="#effbd6" stroke-width="3.2" stroke-linejoin="miter" stroke-linecap="butt"/>
</g>
<text transform="translate(136.81 210.50) scale(0.6931 1)" font-size="38.6" font-weight="400" fill="#0b1626" stroke="#0b1626" stroke-width="1.0">E</text>
<text transform="translate(156.42 210.50) scale(1.0306 1)" font-size="38.6" font-weight="400" fill="#0b1626" stroke="#0b1626" stroke-width="1.0">u</text>
<text transform="translate(176.83 210.50) scale(0.9637 1)" font-size="38.6" font-weight="400" fill="#0b1626" stroke="#0b1626" stroke-width="1.0">r</text>
<text transform="translate(191.01 210.50) scale(1.0425 1)" font-size="38.6" font-weight="400" fill="#0b1626" stroke="#0b1626" stroke-width="1.0">o</text>
<text transform="translate(212.98 210.50) scale(0.8908 1)" font-size="38.6" font-weight="400" fill="#0b1626" stroke="#0b1626" stroke-width="1.0">P</text>
<text transform="translate(236.67 210.50) scale(0.9331 1)" font-size="38.6" font-weight="400" fill="#0b1626" stroke="#0b1626" stroke-width="1.0">e</text>
<text transform="translate(138.61 256.70) scale(0.7909 1)" font-size="38.4" font-weight="400" fill="#0b1626" stroke="#0b1626" stroke-width="1.0">a</text>
<text transform="translate(156.85 256.70) scale(0.9625 1)" font-size="38.4" font-weight="400" fill="#0b1626" stroke="#0b1626" stroke-width="1.0">n</text>
<text transform="translate(195.64 256.70) scale(0.8003 1)" font-size="38.4" font-weight="400" fill="#0b1626" stroke="#0b1626" stroke-width="1.0">s</text>
<text transform="translate(210.96 256.70) scale(1.1852 1)" font-size="38.4" font-weight="400" fill="#0b1626" stroke="#0b1626" stroke-width="1.0">i</text>
<text transform="translate(220.56 256.70) scale(1.0552 1)" font-size="38.4" font-weight="400" fill="#0b1626" stroke="#0b1626" stroke-width="1.0">z</text>
<text transform="translate(241.82 256.70) scale(0.9046 1)" font-size="38.4" font-weight="400" fill="#0b1626" stroke="#0b1626" stroke-width="1.0">e</text>
</svg></body></html>
